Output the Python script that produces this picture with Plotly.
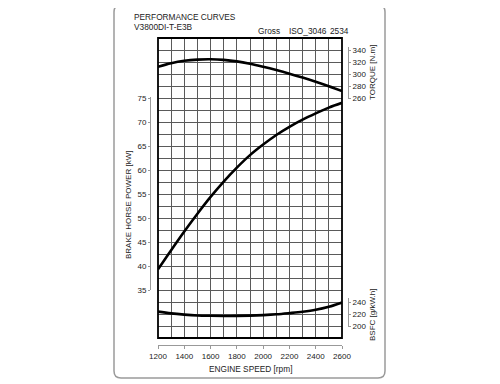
import plotly.graph_objects as go

# ---- data ----
rpm = [1200, 1300, 1400, 1500, 1600, 1700, 1800, 1900, 2000, 2100, 2200, 2300, 2400, 2500, 2600]
torque_nm = [312, 318, 322, 324, 324.5, 323.5, 321, 317, 312, 306.5, 300.5, 294, 287, 279.5, 271.5]
power_kw = [39.3, 43.3, 47.2, 50.9, 54.4, 57.6, 60.5, 63.1, 65.3, 67.3, 69.0, 70.5, 71.8, 73.0, 74.0]
bsfc_g = [224, 221, 219, 217.6, 217, 216.7, 216.8, 217.3, 218.2, 219.5, 221.5, 223.8, 227, 232, 239]

x_ticks = [1200, 1400, 1600, 1800, 2000, 2200, 2400, 2600]
power_ticks = [35, 40, 45, 50, 55, 60, 65, 70, 75]
torque_ticks = [260, 280, 300, 320, 340]
bsfc_ticks = [200, 220, 240]

# ---- layout geometry (pixels, in the 500x384 window frame) ----
OFF = 8  # page body margin
W, H = 500 - OFF, 384 - OFF
ML = 148 - OFF
MT = 38 - OFF
MR = W - (352 - OFF)
MB = H - (345 - OFF)
PW, PH = W - ML - MR, H - MT - MB
GRID_TOP, GRID_BOT, ROW, NROWS = 38, 338, 12, 25
PLOT_L, PLOT_R = 158, 342


def fx(px):
    return (px - OFF - ML) / PW


def fy(py):
    return (H - MB - (py - OFF)) / PH


def pix(v, v0, dv):
    return GRID_BOT - (v - v0) / dv * ROW


def axis_dom(a, b, v0, dv):
    return [fy(pix(a, v0, dv)), fy(pix(b, v0, dv))]


FONT = "Liberation Sans, Arial, sans-serif"
TXT = "#222"
AXC = "#999"
GRIDC = "#5a5a5a"

fig = go.Figure()
line = dict(color="black", width=2.6, shape="spline", smoothing=1)
fig.add_trace(go.Scatter(x=rpm, y=power_kw, yaxis="y2", mode="lines", line=line, hoverinfo="skip"))
fig.add_trace(go.Scatter(x=rpm, y=torque_nm, yaxis="y3", mode="lines", line=line, hoverinfo="skip"))
fig.add_trace(go.Scatter(x=rpm, y=bsfc_g, yaxis="y4", mode="lines", line=line, hoverinfo="skip"))
# invisible trace to anchor the grid axis
fig.add_trace(go.Scatter(x=[rpm[0]], y=[0], yaxis="y", mode="markers",
                         marker=dict(opacity=0), hoverinfo="skip"))

tickfont = dict(family=FONT, size=8, color=TXT)

p_a, p_b = 35, 75.3
t_a, t_b = 259, 345
b_a, b_b = 199, 246

fig.update_layout(
    width=W, height=H,
    margin=dict(l=ML, r=MR, t=MT, b=MB, pad=0),
    paper_bgcolor="white", plot_bgcolor="rgba(0,0,0,0)",
    showlegend=False,
    xaxis=dict(
        domain=[fx(PLOT_L), fx(PLOT_R)], range=[1200, 2600],
        anchor="free", position=0,
        tickvals=x_ticks, ticktext=[str(v) for v in x_ticks],
        ticks="outside", ticklen=3, tickcolor=AXC, tickfont=tickfont,
        showline=True, linecolor=AXC, linewidth=1,
        showgrid=True, gridcolor=GRIDC, gridwidth=1,
        minor=dict(dtick=100, tick0=1200, showgrid=True, gridcolor=GRIDC, gridwidth=1, ticks=""),
        zeroline=False,
    ),
    yaxis=dict(
        domain=[fy(GRID_BOT), fy(GRID_TOP)], range=[0, NROWS], dtick=1,
        showgrid=True, gridcolor=GRIDC, gridwidth=1,
        showticklabels=False, ticks="", showline=False, zeroline=False,
        anchor="x",
    ),
    yaxis2=dict(
        domain=axis_dom(p_a, p_b, 25, 2.5), range=[p_a, p_b],
        anchor="free", position=fx(150), side="left",
        tickvals=power_ticks, ticks="outside", ticklen=2, tickcolor=AXC,
        tickfont=tickfont, showline=True, linecolor=AXC, linewidth=1,
        showgrid=False, zeroline=False,
    ),
    yaxis3=dict(
        domain=axis_dom(t_a, t_b, -140, 20), range=[t_a, t_b],
        anchor="free", position=fx(348), side="right",
        tickvals=torque_ticks, ticks="outside", ticklen=2, tickcolor=AXC,
        tickfont=tickfont, showline=True, linecolor=AXC, linewidth=1,
        showgrid=False, zeroline=False,
    ),
    yaxis4=dict(
        domain=axis_dom(b_a, b_b, 180, 20), range=[b_a, b_b],
        anchor="free", position=fx(348), side="right",
        tickvals=bsfc_ticks, ticks="outside", ticklen=2, tickcolor=AXC,
        tickfont=tickfont, showline=True, linecolor=AXC, linewidth=1,
        showgrid=False, zeroline=False,
    ),
)

# plot border
fig.add_shape(type="rect", xref="x domain", yref="y domain", x0=0, x1=1, y0=0, y1=1,
              line=dict(color="black", width=1.8), layer="above")

# outer rounded box
x0, x1 = fx(114), fx(385)
y0, y1 = fy(378), fy(5)
rx, ry = 7 / PW, 7 / PH
path = (f"M {x0+rx},{y1} L {x1-rx},{y1} Q {x1},{y1} {x1},{y1-ry} "
        f"L {x1},{y0+ry} Q {x1},{y0} {x1-rx},{y0} L {x0+rx},{y0} "
        f"Q {x0},{y0} {x0},{y0+ry} L {x0},{y1-ry} Q {x0},{y1} {x0+rx},{y1} Z")
fig.add_shape(type="path", xref="paper", yref="paper", path=path,
              line=dict(color="#9a9a9a", width=1.5))


def note(text, px, py, size=8.3, xanchor="left", angle=0, yanchor="middle"):
    fig.add_annotation(text=text, xref="paper", yref="paper", x=fx(px), y=fy(py),
                       xanchor=xanchor, yanchor=yanchor, showarrow=False, textangle=angle,
                       font=dict(family=FONT, size=size, color=TXT))


note("PERFORMANCE CURVES", 132, 17)
note("V3800DI-T-E3B", 132, 27)
note("Gross", 256, 31.5)
note("ISO_3046", 287, 31.5)
note("2534", 328, 31.5)
note("BRAKE HORSE POWER [kW]", 128, 205, size=8, xanchor="center", angle=-90)
note("TORQUE [N.m]", 372, 73, size=8, xanchor="center", angle=-90)
note("BSFC [g/kW.h]", 372, 315, size=8, xanchor="center", angle=-90)
note("ENGINE SPEED [rpm]", 250, 369, size=8.3, xanchor="center")

fig.write_html("out.html")
